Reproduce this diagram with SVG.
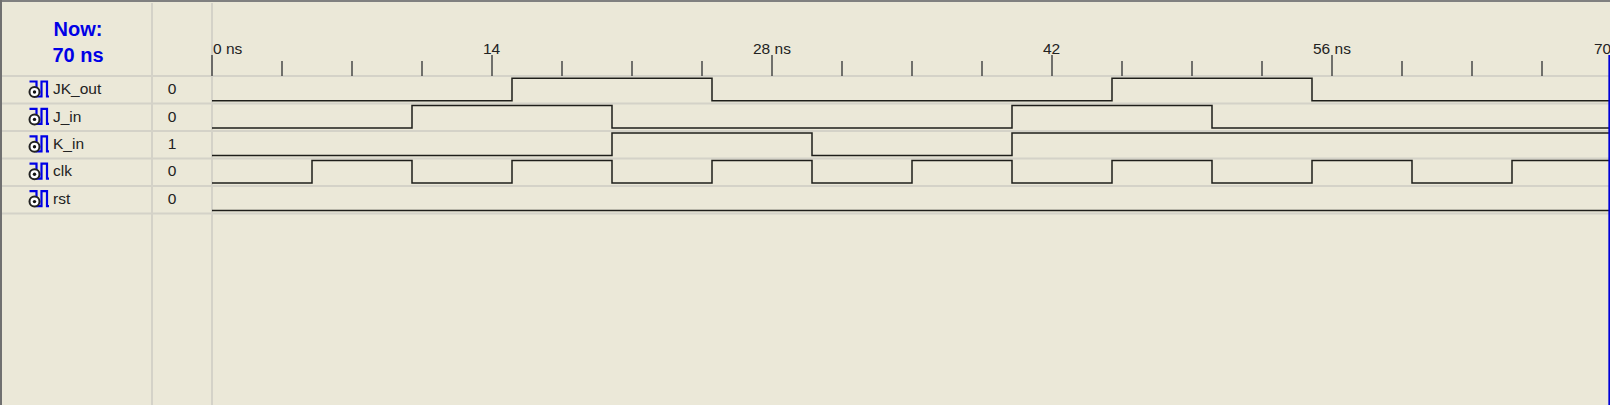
<svg xmlns="http://www.w3.org/2000/svg" width="1610" height="405" viewBox="0 0 1610 405">
<style>
text{font-family:"Liberation Sans",Arial,sans-serif;font-size:15.500px;fill:#222}
.now{font-size:20px;font-weight:bold;fill:#0000e6;text-anchor:middle}
.sep{stroke:#d4d2c8;stroke-width:2;fill:none}
.tick{stroke:#484848;stroke-width:1.500;fill:none}
.wave{stroke:#1e1e1a;stroke-width:1.500;fill:none}
.val{text-anchor:middle}
</style>
<defs>
<g id="sigicon">
<path d="M29.500 81.500H36.500V96.500H41.500V81.500H47V96.500H49" fill="none" stroke="#0000e6" stroke-width="2.200"/>
<circle cx="34.500" cy="92" r="5" fill="#fff" stroke="#222" stroke-width="2"/>
<circle cx="34.500" cy="92" r="1.700" fill="#111"/>
</g>
</defs>
<rect width="1610" height="405" fill="#ebe8d8"/>
<path d="M0 1H1610" stroke="#808080" stroke-width="2"/>
<path d="M1 0V405" stroke="#707070" stroke-width="2"/>
<g id="grid">
<path class="sep" d="M152 3V405M212 3V405M2 76H1610M2 103.500H1610M2 131H1610M2 158.500H1610M2 186H1610M2 213.500H1610"/>
</g>
<g id="now-label">
<text class="now" x="78" y="36">Now:</text>
<text class="now" x="78" y="62">70 ns</text>
</g>
<g id="time-axis">
<text x="213" y="54">0 ns</text>
<text x="483" y="54">14</text>
<text x="753" y="54">28 ns</text>
<text x="1043" y="54">42</text>
<text x="1313" y="54">56 ns</text>
<text x="1594" y="54">70</text>
<path class="tick" d="M212 55V76M492 55V76M772 55V76M1052 55V76M1332 55V76"/>
<path class="tick" d="M282 61V76M352 61V76M422 61V76M562 61V76M632 61V76M702 61V76M842 61V76M912 61V76M982 61V76M1122 61V76M1192 61V76M1262 61V76M1402 61V76M1472 61V76M1542 61V76"/>
</g>
<g id="row-JK_out">
<use href="#sigicon"/>
<text x="53" y="94">JK_out</text>
<text class="val" x="172" y="94">0</text>
</g>
<g id="row-J_in">
<use href="#sigicon" y="27.400"/>
<text x="53" y="122">J_in</text>
<text class="val" x="172" y="122">0</text>
</g>
<g id="row-K_in">
<use href="#sigicon" y="54.800"/>
<text x="53" y="149">K_in</text>
<text class="val" x="172" y="149">1</text>
</g>
<g id="row-clk">
<use href="#sigicon" y="82.200"/>
<text x="53" y="176">clk</text>
<text class="val" x="172" y="176">0</text>
</g>
<g id="row-rst">
<use href="#sigicon" y="109.600"/>
<text x="53" y="204">rst</text>
<text class="val" x="172" y="204">0</text>
</g>
<g id="connectors">
<path id="wave-JK_out" class="wave" d="M212 100.750H512V78.250H712V100.750H1112V78.250H1312V100.750H1609"/>
<path id="wave-J_in" class="wave" d="M212 128H412V105.500H612V128H1012V105.500H1212V128H1609"/>
<path id="wave-K_in" class="wave" d="M212 155.500H612V133H812V155.500H1012V133H1609"/>
<path id="wave-clk" class="wave" d="M212 183H312V160.500H412V183H512V160.500H612V183H712V160.500H812V183H912V160.500H1012V183H1112V160.500H1212V183H1312V160.500H1412V183H1512V160.500H1609"/>
<path id="wave-rst" class="wave" d="M212 210.500H1609"/>
</g>
<path id="cursor" d="M1609.200 55V405" stroke="#0000d8" stroke-width="1.700"/>
</svg>
